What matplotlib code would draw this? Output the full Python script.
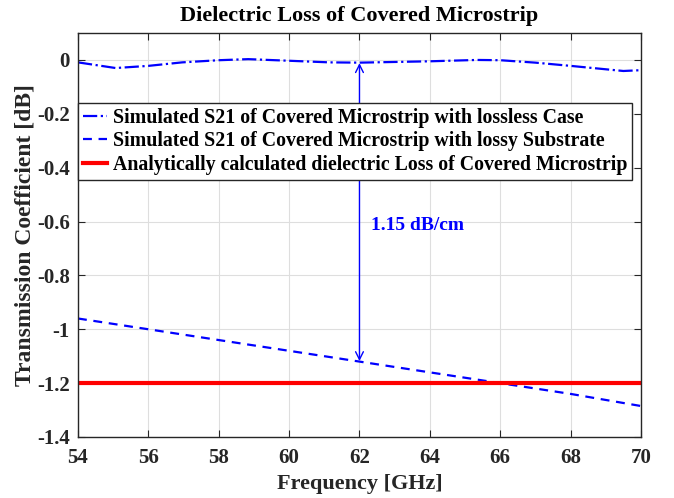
import numpy as np
import matplotlib.pyplot as plt
from matplotlib.ticker import FuncFormatter

# lossless S21
f_lossless = [54.0, 55.07, 56.0, 56.96, 58.0, 58.84, 60.0, 61.15, 62.0, 64.0, 65.34, 66.0, 67.0, 68.0, 69.5, 70.0]
s21_lossless = [-0.009, -0.030, -0.022, -0.009, -0.001, 0.003, -0.003, -0.009, -0.010, -0.005, 0.000, -0.001, -0.010, -0.022, -0.041, -0.038]

# lossy substrate S21
f_lossy = [54, 56, 58, 60, 62, 64, 66, 68, 70]
s21_lossy = [-0.96, -1.00, -1.04, -1.08, -1.12, -1.16, -1.20, -1.24, -1.285]

# analytical dielectric loss
f_analytic = [54, 70]
loss_analytic = [-1.2, -1.2]

arrow_f = 62
arrow_top = -0.012
arrow_bottom = -1.118
note = "1.15 dB/cm"

plt.rcParams['font.family'] = ['Liberation Serif', 'DejaVu Serif']
plt.rcParams['font.weight'] = 'bold'

fig = plt.figure(figsize=(6.74, 4.98), dpi=100)
ax = fig.add_axes([0.1157, 0.1225, 0.8353, 0.8112])

ax.plot(f_lossless, s21_lossless, color='blue', ls='-.', lw=1.6,
        label='Simulated S21 of Covered Microstrip with lossless Case')
ax.plot(f_lossy, s21_lossy, color='blue', ls=(0, (4, 3)), lw=1.6,
        label='Simulated S21 of Covered Microstrip with lossy Substrate')
ax.plot(f_analytic, loss_analytic, color='red', lw=3,
        label='Analytically calculated dielectric Loss of Covered Microstrip')

ax.annotate('', xy=(arrow_f, arrow_top), xytext=(arrow_f, arrow_bottom),
            arrowprops=dict(arrowstyle='<->', color='blue', lw=1.0,
                            shrinkA=0, shrinkB=0, mutation_scale=14))
ax.text(arrow_f + 0.33, -0.613, note, color='blue', fontsize=14,
        fontweight='bold', ha='left', va='center')

ax.set_xlim(54, 70)
ax.set_ylim(-1.4, 0.1)
ax.set_xticks(np.arange(54, 71, 2))
ax.set_yticks([0, -0.2, -0.4, -0.6, -0.8, -1.0, -1.2, -1.4])
ax.yaxis.set_major_formatter(FuncFormatter(lambda v, p: '%g' % round(v, 2)))
ax.tick_params(direction='in', top=True, right=True, labelsize=15, length=5,
               color='#262626')
ax.tick_params(axis='x', pad=8)
ax.tick_params(axis='y', pad=6)
ax.grid(True, color='#dedede', lw=0.8)
ax.set_axisbelow(True)
for sp in ax.spines.values():
    sp.set_color('#262626')
    sp.set_linewidth(1.0)

ax.set_xlabel('Frequency [GHz]', fontsize=16, fontweight='bold', color='#262626', labelpad=4)
ax.set_ylabel('Transmission Coefficient [dB]', fontsize=17, fontweight='bold', color='#262626', labelpad=1)
ax.set_title('Dielectric Loss of Covered Microstrip', fontsize=16, fontweight='bold', pad=9)
for lab in ax.get_xticklabels() + ax.get_yticklabels():
    lab.set_color('#262626')

leg = ax.legend(loc='upper left', bbox_to_anchor=(0.0, 0.827), fontsize=14.3,
                handlelength=1.2, handletextpad=0.3, borderpad=0.25,
                labelspacing=0.18, borderaxespad=0, fancybox=False,
                framealpha=1, edgecolor='#262626')
leg.get_frame().set_linewidth(1.0)

fig.savefig('out.png', dpi=100)
